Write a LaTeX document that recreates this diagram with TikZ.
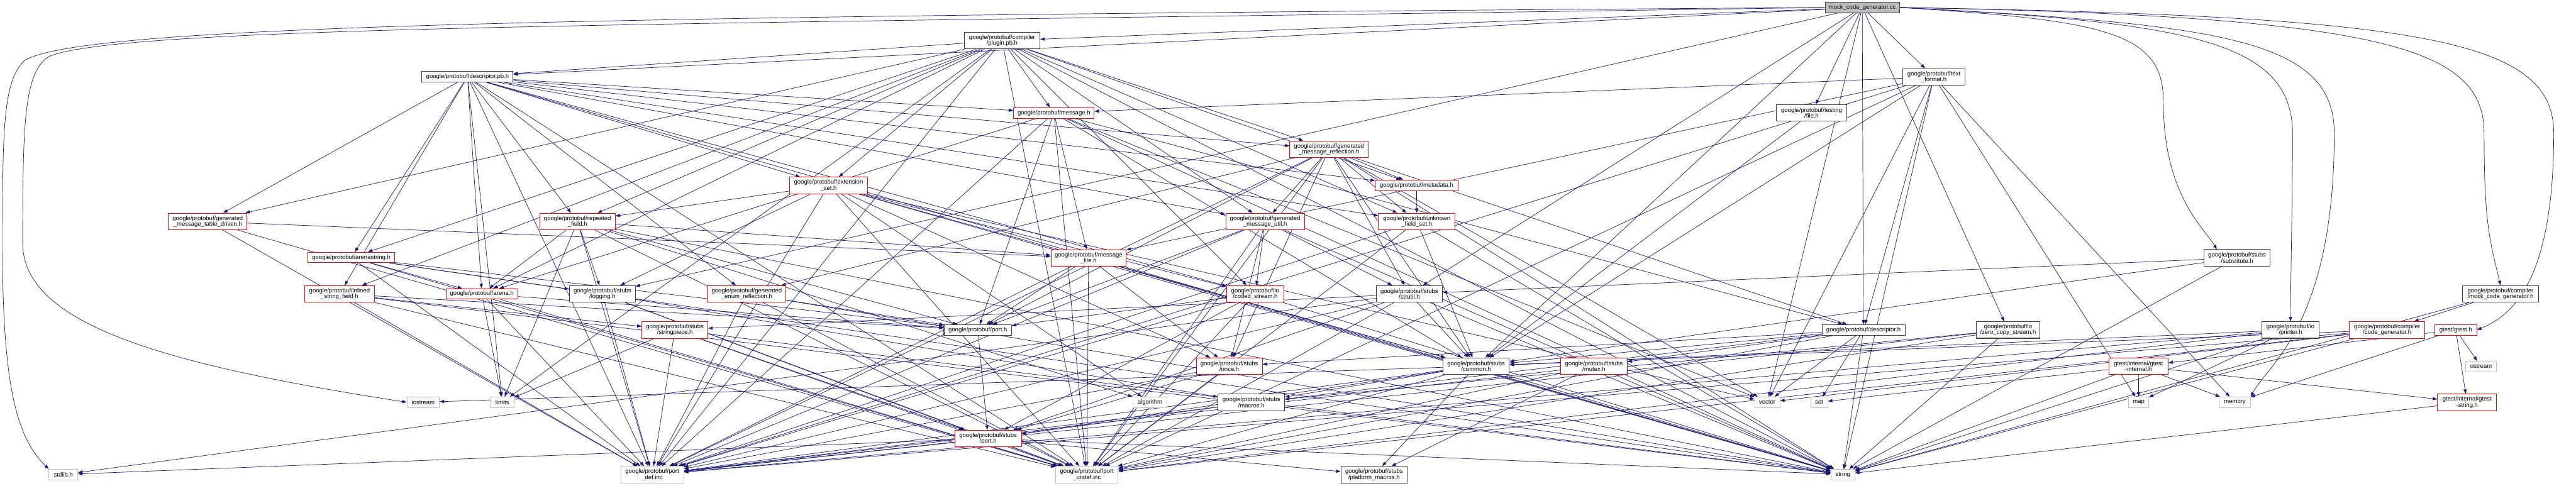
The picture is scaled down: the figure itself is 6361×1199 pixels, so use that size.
\documentclass[tikz,border=0pt]{standalone}
\usepackage{fontspec}
\setmainfont{Liberation Sans}
\usetikzlibrary{arrows.meta}
\definecolor{edgec}{HTML}{191970}
\definecolor{redb}{HTML}{FF0000}
\definecolor{grayb}{HTML}{BFBFBF}
\definecolor{darkb}{HTML}{404040}
\pgfdeclarelayer{bg}
\pgfsetlayers{bg,main}
\begin{document}
\begin{tikzpicture}[x=0.5pt,y=-0.5pt,
  base/.style={fill=white, inner sep=0pt, align=center, font=\fontsize{7.4}{7.2}\selectfont},
  nb/.style={base, draw=darkb, line width=0.8pt},
  nr/.style={base, draw=redb, line width=0.7pt},
  ng/.style={base, draw=grayb, line width=0.7pt},
  nroot/.style={base, draw=darkb, line width=0.8pt, fill=grayb},
  h1/.style={minimum height=13pt},
  h2/.style={minimum height=20.5pt},
  edge/.style={draw=edgec, line width=0.55pt, -{Triangle[length=5.5pt,width=4pt]}}]
\useasboundingbox (0,0) rectangle (6361,1199);
% rank 0-2
\node[nroot,h1,minimum width=91.5pt] (root) at (4598.5,18.5) {mock\_code\_generator.cc};
\node[nb,h2,minimum width=93.5pt] (plugin) at (2474.5,100.5) {google/protobuf/compiler\\/plugin.pb.h};
\node[nb,h1,minimum width=112.5pt] (descpb) at (1154.5,189.5) {google/protobuf/descriptor.pb.h};
\node[nb,h2,minimum width=76.5pt] (textfmt) at (4775.5,190) {google/protobuf/text\\\_format.h};
\node[nb,h2,minimum width=87.5pt] (file) at (4473.5,279) {google/protobuf/testing\\/file.h};
\node[nr,h1,minimum width=99.5pt] (message) at (2602.5,279) {google/protobuf/message.h};
\node[nr,h2,minimum width=97pt] (gmr) at (3282,368.5) {google/protobuf/generated\\\_message\_reflection.h};
\node[nr,h2,minimum width=97pt] (extset) at (2046,458) {google/protobuf/extension\\\_set.h};
\node[nr,h1,minimum width=102pt] (metadata) at (3498,457.5) {google/protobuf/metadata.h};
\node[nr,h2,minimum width=97pt] (gmtd) at (513,547) {google/protobuf/generated\\\_message\_table\_driven.h};
\node[nr,h2,minimum width=93pt] (repfield) at (1426,547) {google/protobuf/repeated\\\_field.h};
\node[nr,h2,minimum width=97pt] (gmu) at (3124,547) {google/protobuf/generated\\\_message\_util.h};
\node[nr,h2,minimum width=94.5pt] (ufs) at (3498.5,547) {google/protobuf/unknown\\\_field\_set.h};
\node[nr,h1,minimum width=107.5pt] (arenastr) at (867.5,636) {google/protobuf/arenastring.h};
\node[nr,h2,minimum width=93pt] (msglite) at (2688,637) {google/protobuf/message\\\_lite.h};
\node[nb,h2,minimum width=82pt] (subst) at (5524,637) {google/protobuf/stubs\\/substitute.h};
\node[nr,h2,minimum width=86.5pt] (inlined) at (838.5,726) {google/protobuf/inlined\\\_string\_field.h};
\node[nr,h1,minimum width=89pt] (arena) at (1190,726) {google/protobuf/arena.h};
\node[nb,h2,minimum width=81.5pt] (logging) at (1487.5,726) {google/protobuf/stubs\\/logging.h};
\node[nr,h2,minimum width=97pt] (ger) at (1844,726) {google/protobuf/generated\\\_enum\_reflection.h};
\node[nr,h2,minimum width=70.5pt] (coded) at (3099.5,726) {google/protobuf/io\\/coded\_stream.h};
\node[nb,h2,minimum width=82pt] (strutil) at (3480,726) {google/protobuf/stubs\\/strutil.h};
\node[nb,h2,minimum width=93.5pt] (mockh) at (6174.5,726) {google/protobuf/compiler\\/mock\_code\_generator.h};
\node[nr,h2,minimum width=81.5pt] (strpiece) at (1666.5,815) {google/protobuf/stubs\\/stringpiece.h};
\node[nb,h1,minimum width=83.5pt] (port) at (2414.5,815) {google/protobuf/port.h};
\node[nb,h1,minimum width=102.5pt] (desch) at (4601.5,815) {google/protobuf/descriptor.h};
\node[nb,h2,minimum width=78.5pt] (zcs) at (4958.5,815) {google/protobuf/io\\/zero\_copy\_stream.h};
\node[nb,h2,minimum width=71pt] (printer) at (5656,815) {google/protobuf/io\\/printer.h};
\node[nr,h2,minimum width=93.5pt] (codegen) at (5894.5,815) {google/protobuf/compiler\\/code\_generator.h};
\node[nr,h1,minimum width=52pt] (gtest) at (6064,815) {gtest/gtest.h};
\node[nr,h2,minimum width=81.5pt] (once) at (3035.5,904.5) {google/protobuf/stubs\\/once.h};
\node[nb,h2,minimum width=82pt] (common) at (3645,904.5) {google/protobuf/stubs\\/common.h};
\node[nr,h2,minimum width=82pt] (mutex) at (3936,904.5) {google/protobuf/stubs\\/mutex.h};
\node[nr,h2,minimum width=73.5pt] (gtint) at (5280.5,904.5) {gtest/internal/gtest\\-internal.h};
\node[ng,h1,minimum width=37.5pt] (ostream) at (6126.5,905) {ostream};
\node[ng,h1,minimum width=40pt] (iostream) at (1045,993.5) {iostream};
\node[ng,h1,minimum width=29.5pt] (limits) at (1240.5,993.5) {limits};
\node[ng,h1,minimum width=42.5pt] (algorithm) at (2839.5,993.5) {algorithm};
\node[nb,h2,minimum width=82pt] (macros) at (3090,994) {google/protobuf/stubs\\/macros.h};
\node[ng,h1,minimum width=31pt] (vector) at (4364,993.5) {vector};
\node[ng,h1,minimum width=21pt] (set) at (4492,993.5) {set};
\node[ng,h1,minimum width=25pt] (map) at (5281,993.5) {map};
\node[ng,h1,minimum width=38.5pt] (memory) at (5518.5,993.5) {memory};
\node[nr,h2,minimum width=73pt] (gtstr) at (6092,994) {gtest/internal/gtest\\-string.h};
\node[nr,h2,minimum width=82pt] (stubport) at (2440,1083) {google/protobuf/stubs\\/port.h};
\node[ng,h1,minimum width=35.5pt] (stdlib) at (156.5,1172) {stdlib.h};
\node[ng,h2,minimum width=77.5pt] (portdef) at (1610.5,1172.5) {google/protobuf/port\\\_def.inc};
\node[ng,h2,minimum width=77pt] (portundef) at (2684,1172.5) {google/protobuf/port\\\_undef.inc};
\node[nb,h2,minimum width=82pt] (platmac) at (3393,1172.5) {google/protobuf/stubs\\/platform\_macros.h};
\node[ng,h1,minimum width=29.5pt] (string) at (4550.5,1172) {string};
\begin{pgfonlayer}{bg}
\foreach \a/\b in {root/plugin, root/descpb, root/textfmt, root/file, root/logging, root/strutil, root/desch, root/zcs, root/common, root/vector,
plugin/descpb, plugin/message, plugin/gmr, plugin/extset, plugin/metadata, plugin/gmtd, plugin/repfield, plugin/gmu, plugin/ufs, plugin/arenastr, plugin/inlined, plugin/arena, plugin/coded, plugin/limits, plugin/string, plugin/portdef, plugin/portundef,
descpb/message, descpb/gmr, descpb/extset, descpb/metadata, descpb/gmtd, descpb/repfield, descpb/gmu, descpb/ufs, descpb/arenastr, descpb/inlined, descpb/arena, descpb/coded, descpb/ger, descpb/limits, descpb/string, descpb/portdef, descpb/portundef,
textfmt/message, textfmt/msglite, textfmt/desch, textfmt/common, textfmt/map, textfmt/memory, textfmt/string, textfmt/vector, textfmt/portdef, textfmt/portundef,
file/common,
message/msglite, message/arena, message/port, message/desch, message/common, message/vector, message/string, message/portdef, message/portundef,
gmr/metadata, gmr/gmu, gmr/ufs, gmr/ger, gmr/desch, gmr/once, gmr/common, gmr/port, gmr/strutil, gmr/vector, gmr/string, gmr/portdef, gmr/portundef,
extset/repfield, extset/logging, extset/coded, extset/once, extset/common, extset/algorithm, extset/vector, extset/string, extset/portdef, extset/portundef,
metadata/ufs,
gmtd/msglite, gmtd/portdef, gmtd/portundef,
repfield/msglite, repfield/arena, repfield/logging, repfield/port, repfield/limits, repfield/algorithm, repfield/string, repfield/portdef, repfield/portundef,
gmu/coded, gmu/once, gmu/port, gmu/strutil, gmu/string, gmu/portdef, gmu/portundef,
ufs/common, ufs/string, ufs/portdef, ufs/portundef,
arenastr/arena, arenastr/logging, arenastr/port, arenastr/string, arenastr/portdef, arenastr/portundef,
msglite/port, msglite/once, msglite/common, msglite/string, msglite/portdef, msglite/portundef,
subst/common, subst/strutil, subst/string,
inlined/strpiece, inlined/port, inlined/string, inlined/portdef, inlined/portundef,
arena/limits, arena/port, arena/portdef, arena/portundef,
logging/macros, logging/stubport, logging/portdef, logging/portundef,
ger/port, ger/string, ger/portdef, ger/portundef,
coded/port, coded/stubport, coded/string, coded/portdef, coded/portundef,
strutil/strpiece, strutil/common, strutil/stdlib, strutil/stubport, strutil/string, strutil/portdef, strutil/portundef,
mockh/codegen, mockh/string,
strpiece/limits, strpiece/stubport, strpiece/string, strpiece/portdef, strpiece/portundef,
port/stubport,
desch/set, desch/vector, desch/common, desch/mutex, desch/once, desch/string, desch/portdef, desch/portundef,
zcs/macros, zcs/string, zcs/portdef, zcs/portundef,
printer/map, printer/string, printer/common, printer/portdef, printer/portundef,
codegen/common, codegen/vector, codegen/string, codegen/portdef, codegen/portundef,
gtest/gtint, gtest/ostream, gtest/gtstr, gtest/memory,
once/stubport, once/portdef, once/portundef,
common/iostream, common/macros, common/stubport, common/platmac, common/string, common/portdef, common/portundef,
mutex/platmac, mutex/portdef, mutex/portundef,
gtint/map, gtint/set, gtint/memory, gtint/gtstr, gtint/string,
macros/stubport,
gtstr/string,
stubport/stdlib, stubport/platmac, stubport/string, stubport/portdef, stubport/portundef}
  \draw[edge] (\a) -- (\b);
% routed edges
\draw[edge] (root.west) .. controls (1500,40) and (200,60) .. (60,150) .. controls (10,200) and (6,300) .. (6,600) .. controls (6,950) and (40,1080) .. (stdlib.north west);
\draw[edge] (root.west) .. controls (1800,60) and (300,60) .. (120,140) .. controls (60,180) and (56,300) .. (56,600) .. controls (56,800) and (400,900) .. (iostream.west);
\draw[edge] (root.east) .. controls (5200,50) and (5342,80) .. (5342,250) .. controls (5342,480) and (5440,560) .. ([xshift=-25pt]subst.north);
\draw[edge] (root.east) .. controls (5400,55) and (5661,100) .. (5661,330) .. controls (5661,500) and (5656,700) .. (printer.north);
\draw[edge] (root.east) .. controls (5500,60) and (5764,100) .. (5764,330) .. controls (5764,800) and (5600,900) .. (memory.north east);
\draw[edge] (root.east) .. controls (5900,40) and (6134,120) .. (6134,330) .. controls (6134,560) and (6150,600) .. (mockh.north);
\draw[edge] (root.east) .. controls (6000,40) and (6306,100) .. (6306,330) .. controls (6306,700) and (6200,780) .. (gtest.east);
\end{pgfonlayer}
\end{tikzpicture}
\end{document}
